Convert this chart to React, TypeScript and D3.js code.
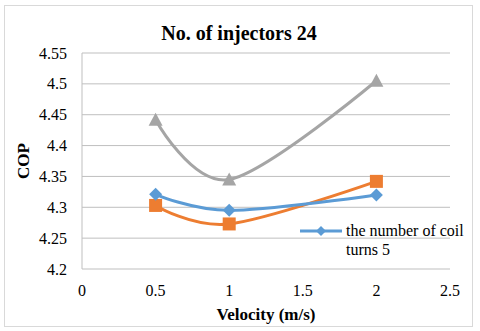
import React from "react";
import * as d3 from "d3";

const velocities = [0.5, 1, 2];
const coilTurns5 = [4.321, 4.295, 4.32];
const seriesOrange = [4.303, 4.273, 4.342];
const seriesGray = [4.442, 4.345, 4.505];
const xTicks = [0, 0.5, 1, 1.5, 2, 2.5];
const yTicks = [4.2, 4.25, 4.3, 4.35, 4.4, 4.45, 4.5, 4.55];

const W = 480;
const H = 331;
const margin = { left: 82, right: 30, top: 53, bottom: 62 };
const font = "Liberation Serif, DejaVu Serif, serif";

const App = () => {
  const x = d3.scaleLinear().domain([0, 2.5]).range([margin.left, W - margin.right]);
  const y = d3.scaleLinear().domain([4.2, 4.55]).range([H - margin.bottom, margin.top]);
  const line = d3
    .line<[number, number]>()
    .x(d => x(d[0]))
    .y(d => y(d[1]))
    .curve(d3.curveCardinal.tension(0));

  const pts = (vals: number[]) => velocities.map((v, i) => [v, vals[i]] as [number, number]);

  const diamond = (cx: number, cy: number, r: number, color: string, key?: string) => (
    <path key={key} d={`M${cx},${cy - r}L${cx + r},${cy}L${cx},${cy + r}L${cx - r},${cy}Z`} fill={color} />
  );

  return (
    <svg width={W} height={H} style={{ position: "absolute", left: 0, top: 0, fontFamily: font }}>
      <rect x={0} y={0} width={W} height={H} fill="#fff" />
      <rect x={4.5} y={5.5} width={468} height={321} fill="#fff" stroke="#d9d9d9" />
      <text x={239} y={39.5} textAnchor="middle" fontWeight="bold" fontSize={20}>
        No. of injectors 24
      </text>
      {yTicks.map(t => (
        <g key={t}>
          <line x1={margin.left} x2={W - margin.right} y1={y(t)} y2={y(t)} stroke="#bfbfbf" strokeWidth={1} />
          <text x={margin.left - 15} y={y(t) + 5.5} textAnchor="end" fontSize={16}>
            {t}
          </text>
        </g>
      ))}
      <line x1={margin.left} x2={margin.left} y1={y(4.2)} y2={y(4.55)} stroke="#bfbfbf" />
      {xTicks.map(t => (
        <text key={t} x={x(t)} y={H - margin.bottom + 26.5} textAnchor="middle" fontSize={16}>
          {t}
        </text>
      ))}
      <text x={x(1.25)} y={H - 11} textAnchor="middle" fontWeight="bold" fontSize={17}>
        Velocity (m/s)
      </text>
      <text
        transform={`translate(29,${y(4.375)}) rotate(-90)`}
        textAnchor="middle"
        fontWeight="bold"
        fontSize={17}
      >
        COP
      </text>

      <path d={line(pts(seriesGray)) || ""} fill="none" stroke="#a5a5a5" strokeWidth={3} />
      {velocities.map((v, i) => {
        const cx = x(v);
        const cy = y(seriesGray[i]);
        return <path key={"g" + i} d={`M${cx},${cy - 7}L${cx + 7},${cy + 6}L${cx - 7},${cy + 6}Z`} fill="#a5a5a5" />;
      })}

      <path d={line(pts(seriesOrange)) || ""} fill="none" stroke="#ed7d31" strokeWidth={3} />
      {velocities.map((v, i) => (
        <rect key={"o" + i} x={x(v) - 6.5} y={y(seriesOrange[i]) - 6.5} width={13} height={13} fill="#ed7d31" />
      ))}

      <path d={line(pts(coilTurns5)) || ""} fill="none" stroke="#5b9bd5" strokeWidth={3} />
      {velocities.map((v, i) => diamond(x(v), y(coilTurns5[i]), 6.5, "#5b9bd5", "b" + i))}

      <line x1={300} x2={342} y1={231} y2={231} stroke="#5b9bd5" strokeWidth={3} />
      {diamond(321, 231, 5, "#5b9bd5")}
      <text x={346} y={236} fontSize={16}>
        the number of coil
      </text>
      <text x={346} y={255} fontSize={16}>
        turns 5
      </text>
    </svg>
  );
};

export default App;
